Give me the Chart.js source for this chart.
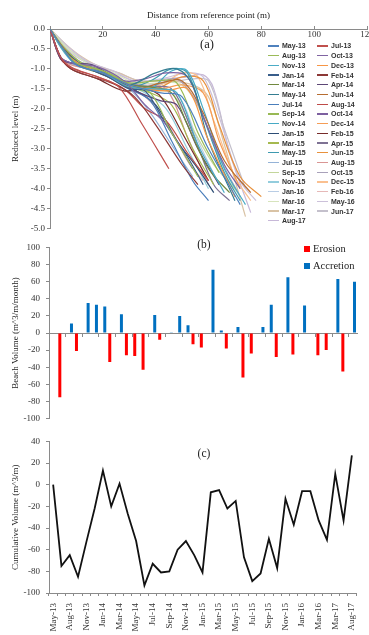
<!DOCTYPE html>
<html>
<head>
<meta charset="utf-8">
<script src="https://cdn.jsdelivr.net/npm/chart.js@4.4.1/dist/chart.umd.min.js"></script>
<style>
  body { margin: 0; background: #fff; }
  #wrap { position: relative; width: 369px; height: 635px; overflow: hidden; }
  canvas { position: absolute; left: 0; }
  .tag { position: absolute; font-family: "Liberation Serif", serif; color: #222; transform: translate(-50%, -50%); white-space: nowrap; }
  #legA { position: absolute; left: 268px; top: 41px; display: grid; grid-template-columns: 49px 49px; grid-auto-rows: 9.72px;
          font: bold 7px "Liberation Sans", Arial, sans-serif; color: #333; }
  #legA div { display: flex; align-items: center; white-space: nowrap; }
  #legA span.ln { display: inline-block; width: 11px; height: 1.3px; margin-right: 3px; }
  .legB { position: absolute; left: 304px; font: 10.5px "Liberation Serif", serif; color: #222; display: flex; align-items: center; }
  .legB span { display: inline-block; width: 6px; height: 6px; margin-right: 3px; }
</style>
</head>
<body>
<div id="wrap">
  <canvas id="chartA" width="369" height="236" style="top:0"></canvas>
  <canvas id="chartB" width="369" height="194" style="top:236px"></canvas>
  <canvas id="chartC" width="369" height="205" style="top:430px"></canvas>
  <div class="tag" style="left:207px;top:44px;font-size:12.5px">(a)</div>
  <div class="tag" style="left:204px;top:244px;font-size:11.5px">(b)</div>
  <div class="tag" style="left:204px;top:453px;font-size:11.5px">(c)</div>
  <div id="legA"></div>
  <div class="legB" style="top:243px"><span style="background:#ff0000"></span>Erosion</div>
  <div class="legB" style="top:260px"><span style="background:#0070c0"></span>Accretion</div>
</div>
<script>
// survey dates (one profile per survey)
const surveyDates = ['May-13','Jul-13','Aug-13','Oct-13','Nov-13','Dec-13','Jan-14','Feb-14','Mar-14','Apr-14',
  'May-14','Jun-14','Jul-14','Aug-14','Sep-14','Oct-14','Nov-14','Dec-14','Jan-15','Feb-15','Mar-15','Apr-15',
  'May-15','Jun-15','Jul-15','Aug-15','Sep-15','Oct-15','Nov-15','Dec-15','Jan-16','Feb-16','Mar-16','May-16',
  'Mar-17','Jun-17','Aug-17'];

// beach profiles: [distance (m), reduced level (m)]
const profiles = [
  [[0,0],[5,-0.5],[10,-0.9],[20,-1.1],[30,-1.4],[42,-1.6],[50,-1.7],[60,-3.0],[72,-4.4]],
  [[0,0],[4,-0.7],[8,-0.95],[18,-1.2],[26,-1.45],[35,-2.4],[45,-3.5]],
  [[0,0],[5,-0.5],[10,-0.85],[20,-1.05],[30,-1.4],[38,-1.6],[46,-2.6],[56,-3.7]],
  [[0,0],[4,-0.7],[8,-0.85],[18,-0.95],[28,-1.3],[36,-1.9],[44,-2.4],[54,-3.5]],
  [[0,0],[5,-0.55],[10,-0.9],[20,-1.1],[30,-1.45],[40,-1.5],[48,-1.6],[56,-2.9],[66,-4.1]],
  [[0,0],[6,-0.6],[12,-0.9],[22,-1.15],[32,-1.45],[44,-1.55],[52,-1.5],[60,-2.8],[70,-4.2]],
  [[0,0],[5,-0.5],[12,-0.9],[22,-1.2],[30,-1.5],[36,-1.55],[44,-2.4],[52,-3.2],[58,-3.9]],
  [[0,0],[4,-0.7],[8,-1.0],[16,-1.2],[25,-1.4],[32,-1.7],[40,-2.4],[50,-3.4],[56,-3.9]],
  [[0,0],[6,-0.6],[12,-0.95],[22,-1.15],[30,-1.4],[38,-1.45],[46,-1.6],[52,-2.4],[60,-3.5],[68,-4.1]],
  [[0,0],[4,-0.75],[8,-0.85],[16,-0.9],[26,-1.3],[34,-1.6],[42,-1.8],[48,-1.9],[56,-3.0],[64,-3.9]],
  [[0,0],[5,-0.5],[12,-0.9],[22,-1.15],[30,-1.4],[40,-1.1],[48,-1.0],[54,-1.4],[60,-2.8],[70,-4.3]],
  [[0,0],[6,-0.55],[12,-0.9],[22,-1.2],[32,-1.5],[42,-1.35],[50,-1.3],[58,-2.1],[66,-3.3],[76,-4.1]],
  [[0,0],[5,-0.5],[10,-0.85],[20,-1.1],[30,-1.5],[38,-1.8],[46,-2.8],[54,-3.8],[60,-4.3]],
  [[0,0],[4,-0.75],[9,-1.0],[18,-1.2],[28,-1.5],[36,-2.0],[44,-2.3],[52,-3.1],[60,-3.8]],
  [[0,0],[5,-0.45],[12,-0.85],[22,-1.1],[30,-1.35],[40,-1.3],[48,-1.35],[56,-2.6],[64,-3.6]],
  [[0,0],[4,-0.7],[8,-0.85],[18,-1.0],[28,-1.3],[36,-1.25],[44,-1.1],[52,-1.2],[58,-2.2],[66,-3.4],[72,-4.0]],
  [[0,0],[6,-0.55],[12,-0.9],[22,-1.15],[30,-1.45],[38,-1.5],[46,-1.05],[52,-1.05],[58,-2.0],[66,-3.5],[74,-4.4]],
  [[0,0],[6,-0.6],[12,-0.9],[22,-1.15],[32,-1.45],[42,-1.5],[50,-1.4],[58,-1.6],[64,-2.8],[72,-4.0]],
  [[0,0],[5,-0.5],[11,-0.9],[20,-1.1],[30,-1.45],[40,-1.9],[48,-2.8],[56,-3.5],[62,-4.1]],
  [[0,0],[4,-0.7],[8,-1.0],[18,-1.25],[28,-1.55],[36,-1.5],[42,-1.7],[50,-2.6],[60,-3.8]],
  [[0,0],[5,-0.5],[12,-0.9],[22,-1.15],[30,-1.45],[38,-1.6],[46,-1.9],[54,-3.0],[62,-3.9]],
  [[0,0],[4,-0.7],[8,-0.85],[18,-1.0],[28,-1.35],[38,-1.45],[46,-1.5],[54,-2.6],[62,-3.9],[68,-4.3]],
  [[0,0],[5,-0.5],[12,-0.9],[22,-1.2],[30,-1.45],[38,-1.3],[46,-1.0],[52,-1.1],[58,-2.2],[66,-3.6],[72,-4.3]],
  [[0,0],[6,-0.6],[12,-0.9],[22,-1.15],[30,-1.45],[40,-1.5],[50,-1.2],[58,-1.3],[64,-2.4],[72,-3.7],[80,-4.2]],
  [[0,0],[5,-0.5],[11,-0.85],[20,-1.1],[30,-1.5],[38,-2.1],[46,-2.9],[54,-3.7]],
  [[0,0],[4,-0.7],[8,-0.9],[18,-1.05],[28,-1.4],[36,-1.45],[44,-1.5],[52,-2.7],[60,-3.9]],
  [[0,0],[6,-0.5],[12,-0.85],[22,-1.1],[30,-1.45],[38,-1.55],[46,-1.6],[54,-2.5],[62,-3.4],[70,-4.0]],
  [[0,0],[5,-0.45],[11,-0.8],[20,-1.0],[30,-1.35],[40,-1.4],[48,-1.25],[56,-1.9],[64,-3.2],[72,-4.2]],
  [[0,0],[4,-0.7],[9,-0.9],[18,-1.05],[28,-1.4],[36,-1.6],[44,-2.0],[52,-3.0],[60,-4.0]],
  [[0,0],[6,-0.55],[12,-0.9],[22,-1.1],[32,-1.45],[42,-1.4],[50,-1.1],[56,-1.2],[62,-2.3],[70,-3.7],[76,-4.3]],
  [[0,0],[5,-0.5],[11,-0.85],[20,-1.05],[30,-1.35],[40,-1.5],[48,-1.6],[56,-2.8],[64,-3.9]],
  [[0,0],[4,-0.7],[9,-0.9],[18,-1.05],[28,-1.4],[36,-1.7],[44,-2.3],[52,-3.3],[58,-3.8]],
  [[0,0],[7,-0.5],[14,-0.85],[24,-1.1],[32,-1.35],[42,-1.35],[50,-1.4],[58,-2.2],[66,-3.6],[72,-4.2]],
  [[0,0],[7,-0.45],[14,-0.8],[24,-1.05],[32,-1.3],[42,-1.25],[52,-1.1],[58,-1.2],[64,-2.2],[72,-3.8],[78,-4.3]],
  [[0,0],[8,-0.5],[16,-0.85],[26,-1.1],[34,-1.3],[44,-1.3],[54,-1.4],[60,-1.7],[66,-2.9],[74,-4.7]],
  [[0,0],[8,-0.55],[16,-0.9],[26,-1.15],[34,-1.35],[44,-1.35],[54,-1.25],[60,-1.3],[66,-2.5],[74,-4.0]],
  [[0,0],[8,-0.6],[16,-0.9],[26,-1.1],[34,-1.3],[44,-1.25],[52,-1.2],[58,-1.15],[62,-1.5],[68,-3.1],[76,-4.6]]
];

// monthly beach volume change (m^3/m/month)
const erosion = [null,-75,null,-21,null,null,null,-34,null,-26,-27,-43,null,-8,null,null,null,-13,-17,null,
  null,-18,null,-52,-24,null,null,-28,null,-25,null,null,-26,-20,null,-45,null];
const accretion = [null,null,11,null,35,33,31,null,22,null,null,null,21,null,1,20,9,null,null,74,
  3,null,7,null,null,7,33,null,65,null,32,null,null,null,63,null,60];

// cumulative volume (m^3/m)
const cumulative = [0,-75,-65,-85,-53,-22,13,-20,1,-27,-52,-93,-73,-81,-80,-60,-52,-65,-81,-7,
  -5,-22,-15,-67,-89,-82,-50,-77,-13,-37,-6,-6,-33,-51,10,-33,27];

const distTicks = [0, 20, 40, 60, 80, 100, 120];

const lineColors = ['#4F81BD','#C0504D','#9BBB59','#8064A2','#4BACC6','#F79646',
  '#385D8A','#8C3836','#71893F','#5C4776','#357D91','#B66D31',
  '#4A7EBB','#BE4B48','#98B954','#7D60A0','#46AAC5','#F59D56',
  '#2C4D75','#772C2A','#A5B94F','#7E7294','#3D9AB0','#E8913C',
  '#95B3D7','#D99694','#C3D69B','#A9A1BA','#93CDDD','#FAC090',
  '#B9CDE5','#E6B9B8','#D7E4BD','#CCC1DA','#D9C3A5','#C4C0CC','#C7B8D8'];

const serif = 'Liberation Serif';
const axisGrey = '#8a8a8a';
const tickFont = { family: serif, size: 9 };

// top axis labels sit just under the axis line, as in the original
const topLabels = {
  id: 'topLabels',
  afterDraw(chart) {
    const { ctx, chartArea, scales } = chart;
    ctx.save();
    ctx.font = '9px "Liberation Serif"';
    ctx.fillStyle = '#333';
    ctx.textAlign = 'center';
    ctx.textBaseline = 'middle';
    distTicks.forEach(v => {
      if (v === 0) return;
      ctx.fillText(String(v), scales.x.getPixelForValue(v), chartArea.top + 6);
    });
    ctx.restore();
  }
};

// ---------- (a) profiles ----------
new Chart(document.getElementById('chartA'), {
  type: 'scatter',
  data: {
    datasets: profiles.map((p, i) => ({
      label: surveyDates[i],
      data: p.map(([x, y]) => ({ x, y })),
      showLine: true,
      borderColor: lineColors[i],
      borderWidth: 1.2,
      pointRadius: 0,
      tension: 0.35,
      fill: false
    }))
  },
  options: {
    responsive: false,
    animation: false,
    layout: { padding: { right: 2, bottom: 6 } },
    plugins: { legend: { display: false }, tooltip: { enabled: false } },
    scales: {
      x: {
        type: 'linear', position: 'top', min: 0, max: 120,
        afterBuildTicks: s => { s.ticks = distTicks.map(v => ({ value: v })); },
        afterFit: s => { s.height = 29; s.paddingLeft = 0; s.paddingRight = 0; },
        ticks: { display: false },
        grid: { drawOnChartArea: false, tickLength: 3, color: axisGrey },
        border: { color: axisGrey },
        title: { display: true, text: 'Distance from reference point (m)', font: tickFont, color: '#222', padding: { top: 10, bottom: 0 } }
      },
      y: {
        min: -5, max: 0,
        afterFit: s => { s.width = 50; },
        ticks: { stepSize: 0.5, font: tickFont, color: '#333', padding: 2, callback: v => v.toFixed(1) },
        grid: { drawOnChartArea: false, tickLength: 3, color: axisGrey },
        border: { color: axisGrey },
        title: { display: true, text: 'Reduced level (m)', font: tickFont, color: '#222', padding: { top: 10, bottom: 0 } }
      }
    }
  },
  plugins: [topLabels]
});

// html legend for (a), row-major like the original
const legA = document.getElementById('legA');
surveyDates.forEach((d, i) => {
  const item = document.createElement('div');
  item.innerHTML = '<span class="ln" style="background:' + lineColors[i] + '"></span>' + d;
  legA.appendChild(item);
});

// ---------- (b) monthly volume ----------
new Chart(document.getElementById('chartB'), {
  type: 'bar',
  data: {
    labels: surveyDates,
    datasets: [
      { label: 'Erosion', data: erosion, backgroundColor: '#ff0000', categoryPercentage: 0.8, barPercentage: 0.9 },
      { label: 'Accretion', data: accretion, backgroundColor: '#0070c0', categoryPercentage: 0.8, barPercentage: 0.9 }
    ]
  },
  options: {
    responsive: false,
    animation: false,
    layout: { padding: { top: 7, right: 12, bottom: 5 } },
    plugins: { legend: { display: false }, tooltip: { enabled: false } },
    scales: {
      x: {
        position: { y: 0 },
        ticks: { display: false },
        grid: { drawOnChartArea: false, tickLength: 3, offset: true,
                color: c => c.index % 2 === 0 ? axisGrey : 'rgba(0,0,0,0)' },
        border: { color: axisGrey }
      },
      y: {
        min: -100, max: 100,
        afterFit: s => { s.width = 49; },
        ticks: { stepSize: 20, font: tickFont, color: '#333', padding: 6 },
        grid: { drawOnChartArea: false, tickLength: 3, color: axisGrey },
        border: { color: axisGrey },
        title: { display: true, text: 'Beach Volume (m^3/m/month)', font: tickFont, color: '#222', padding: { top: 10, bottom: 0 } }
      }
    }
  }
});

// ---------- (c) cumulative volume ----------
new Chart(document.getElementById('chartC'), {
  type: 'line',
  data: {
    labels: surveyDates,
    datasets: [{ label: 'Cumulative', data: cumulative, borderColor: '#111', borderWidth: 1.8, pointRadius: 0, tension: 0, fill: false }]
  },
  options: {
    responsive: false,
    animation: false,
    layout: { padding: { top: 9, right: 13, bottom: 0 } },
    plugins: { legend: { display: false }, tooltip: { enabled: false } },
    scales: {
      x: {
        offset: true,
        afterFit: s => { s.height = 42; s.paddingLeft = 0; s.paddingRight = 0; },
        ticks: { autoSkip: false, minRotation: 90, maxRotation: 90, font: tickFont, color: '#333', padding: 7,
                 callback: function (v, i) { return i % 2 === 0 ? this.getLabelForValue(v) : ''; } },
        grid: { drawOnChartArea: false, tickLength: 3, offset: true, color: axisGrey },
        border: { color: axisGrey }
      },
      y: {
        min: -100, max: 40,
        afterFit: s => { s.width = 49; },
        ticks: { stepSize: 20, font: tickFont, color: '#333', padding: 6 },
        grid: { drawOnChartArea: false, tickLength: 3, color: axisGrey },
        border: { color: axisGrey },
        title: { display: true, text: 'Cumulative Volume (m^3/m)', font: tickFont, color: '#222', padding: { top: 10, bottom: 0 } }
      }
    }
  }
});
</script>
</body>
</html>
